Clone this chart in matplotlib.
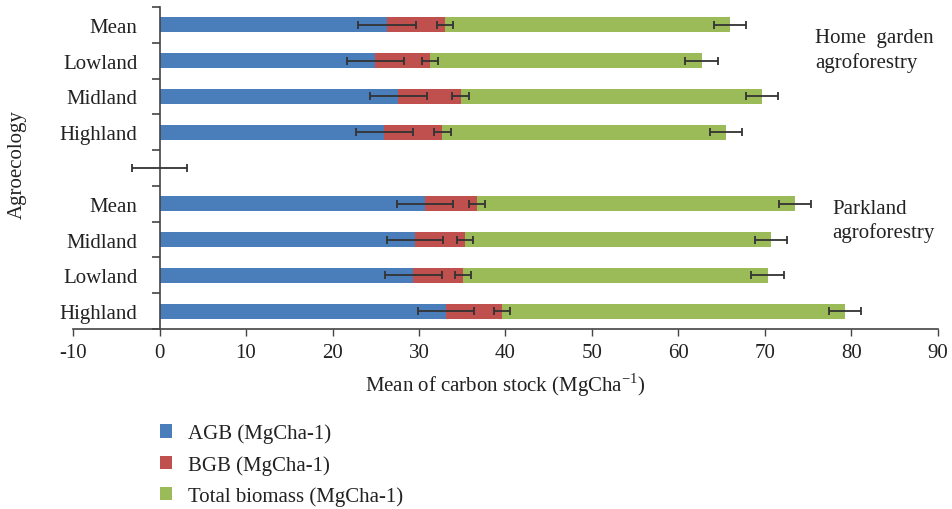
import numpy as np
import matplotlib
matplotlib.use("Agg")
import matplotlib.pyplot as plt
from matplotlib.patches import Patch

plt.rcParams['font.family'] = ['Liberation Serif', 'DejaVu Serif']
plt.rcParams['axes.unicode_minus'] = False
plt.rcParams['mathtext.fontset'] = 'custom'
plt.rcParams['mathtext.rm'] = 'Liberation Serif'

# Data (bottom to top)
categories = ["Highland", "Lowland", "Midland", "Mean", "",
              "Highland", "Midland", "Lowland", "Mean"]
agb = [33.1, 29.35, 29.5, 30.7, 0.0, 26.0, 27.6, 24.95, 26.3]
bgb = [6.5, 5.75, 5.8, 6.0, 0.0, 6.7, 7.2, 6.35, 6.7]
total = [39.7, 35.2, 35.4, 36.8, 0.0, 32.8, 34.9, 31.4, 33.0]
agb_err = [3.25, 3.3, 3.25, 3.25, 3.2, 3.3, 3.3, 3.3, 3.3]
bgb_err = [0.9, 0.9, 0.9, 0.95, np.nan, 0.95, 0.95, 0.95, 0.93]
total_err = [1.85, 1.9, 1.8, 1.85, np.nan, 1.85, 1.85, 1.9, 1.85]
series_labels = ["AGB (MgCha-1)", "BGB (MgCha-1)", "Total biomass (MgCha-1)"]
colors = ["#4a7ebb", "#c0504d", "#9bbb59"]
xticks = list(range(-10, 91, 10))

FS = 15
TXT = '#222222'

fig = plt.figure(figsize=(9.53, 5.10), dpi=100)
ax = fig.add_axes([73/953, 1-330/510, (938-73)/953, (330-8)/510])

y = np.arange(len(categories))
agb_a = np.array(agb); bgb_a = np.array(bgb); tot_a = np.array(total)
h = 0.42
ax.barh(y, agb_a, height=h, color=colors[0], label=series_labels[0], zorder=2)
ax.barh(y, bgb_a, left=agb_a, height=h, color=colors[1], label=series_labels[1], zorder=2)
ax.barh(y, tot_a, left=agb_a + bgb_a, height=h, color=colors[2], label=series_labels[2], zorder=2)

ekw = dict(fmt='none', ecolor='#333333', elinewidth=1.3, capsize=3.2, capthick=1.3, zorder=3)
ax.errorbar(agb_a, y, xerr=np.array(agb_err), **ekw)
bm = ~np.isnan(np.array(bgb_err))
ax.errorbar((agb_a + bgb_a)[bm], y[bm], xerr=np.array(bgb_err)[bm], **ekw)
tm = ~np.isnan(np.array(total_err))
ax.errorbar((agb_a + bgb_a + tot_a)[tm], y[tm], xerr=np.array(total_err)[tm], **ekw)

ax.set_xlim(-10, 90)
ax.set_ylim(-0.5, len(categories) - 0.5)
ax.set_xticks(xticks)
ax.set_xticklabels([str(t) for t in xticks])

# y ticks at boundaries, labels at centers
ax.set_yticks(np.arange(-0.5, len(categories), 1.0))
ax.set_yticklabels([])
ax.set_yticks(y, minor=True)
ax.set_yticklabels(categories, minor=True)
ax.tick_params(axis='y', which='major', length=6, width=1.2, color='#444444', direction='out')
ax.tick_params(axis='y', which='minor', length=0, pad=16, labelsize=FS, labelcolor=TXT)
ax.tick_params(axis='x', which='major', length=5, width=1.0, color='#444444', labelsize=FS,
               labelcolor=TXT, pad=5)

for s in ['top', 'right']:
    ax.spines[s].set_visible(False)
ax.spines['left'].set_position(('data', 0))
ax.spines['left'].set_color('#444444')
ax.spines['left'].set_linewidth(1.2)
ax.spines['bottom'].set_color('#444444')
ax.spines['bottom'].set_linewidth(1.2)

ax.set_xlabel(r'Mean of carbon stock (MgCha$^{\mathregular{-1}}$)', fontsize=FS, color=TXT, labelpad=6)
fig.text(17/953, 1-165/510, 'Agroecology', rotation=90, ha='center', va='center',
         fontsize=FS, color=TXT)

ax.text(75.8, 7.3, 'Home  garden\nagroforestry', fontsize=FS, color=TXT,
        ha='left', va='center', linespacing=1.3)
ax.text(77.8, 2.53, 'Parkland\nagroforestry', fontsize=FS, color=TXT,
        ha='left', va='center', linespacing=1.3)

handles = [Patch(facecolor=c, edgecolor='none') for c in colors]
fig.legend(handles, series_labels, loc='upper left', bbox_to_anchor=(143/953, 1-408/510),
           frameon=False, fontsize=FS, handlelength=0.6, handleheight=0.6,
           handletextpad=0.75, labelspacing=0.55, labelcolor=TXT, borderpad=0.3)

fig.savefig('out.png', dpi=100)
